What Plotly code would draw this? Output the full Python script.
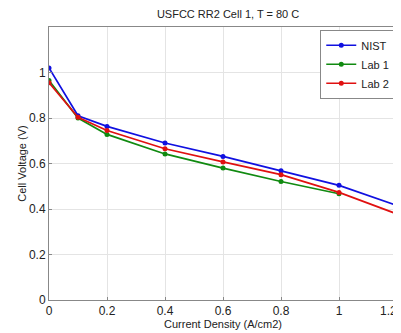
import plotly.graph_objects as go

current_density = [0, 0.1, 0.2, 0.4, 0.6, 0.8, 1.0, 1.2]
nist = [1.02, 0.81, 0.763, 0.69, 0.631, 0.568, 0.504, 0.415]
lab1 = [0.965, 0.80, 0.728, 0.642, 0.58, 0.521, 0.467]
lab2 = [0.955, 0.803, 0.745, 0.665, 0.607, 0.551, 0.473, 0.378]
x_ticks = [0, 0.2, 0.4, 0.6, 0.8, 1, 1.2]
x_tick_labels = ["0", "0.2", "0.4", "0.6", "0.8", "1", "1.2"]

series = [("NIST", nist, "#1010e0"), ("Lab 1", lab1, "#108a10"), ("Lab 2", lab2, "#e01010")]

fig = go.Figure()
for name, vals, col in series:
    fig.add_trace(go.Scatter(
        x=current_density[:len(vals)], y=vals, name=name, mode="lines+markers",
        line=dict(color=col, width=1.7), marker=dict(color=col, size=5),
    ))

# page body adds an 8px margin, so the figure is sized to fit inside 401x333
font = "Liberation Sans, Arial, sans-serif"
fig.update_layout(
    width=393, height=325,
    margin=dict(l=41, r=4, t=19, b=33),
    paper_bgcolor="white", plot_bgcolor="white",
    font=dict(family=font, size=12, color="#222"),
    title=dict(text="USFCC RR2 Cell 1, T = 80 C", x=0.56, xanchor="center", y=0.98, yanchor="middle",
               font=dict(size=11, family=font, color="#222")),
    showlegend=True,
    legend=dict(x=0.995, y=0.99, xanchor="right", yanchor="top", bgcolor="white",
                bordercolor="#888", borderwidth=1, font=dict(size=11), tracegroupgap=0,
                itemwidth=30),
    xaxis=dict(range=[0, 1.2], tickvals=x_ticks[:-1], ticktext=x_tick_labels[:-1],
               showgrid=True, gridcolor="#e4e4e4", zeroline=False, automargin=False,
               showline=True, linecolor="#888", mirror=True, ticks="inside", ticklen=3,
               tickcolor="#888", tickfont=dict(size=12),
               title=dict(text="Current Density (A/cm2)", font=dict(size=11), standoff=0)),
    yaxis=dict(range=[0, 1.2], tickvals=[0, 0.2, 0.4, 0.6, 0.8, 1],
               ticktext=["0", "0.2", "0.4", "0.6", "0.8", "1"],
               showgrid=True, gridcolor="#e4e4e4", zeroline=False, automargin=False,
               showline=True, linecolor="#888", mirror=True, ticks="inside", ticklen=3,
               tickcolor="#888", tickfont=dict(size=12),
               title=dict(text="Cell Voltage (V)", font=dict(size=11), standoff=0)),
)
# last x tick label, kept fully inside the figure at its right edge
fig.add_annotation(x=1.0, y=0, xref="paper", yref="paper", text=x_tick_labels[-1],
                   showarrow=False, xanchor="right", yanchor="top", yshift=-2, xshift=2,
                   font=dict(size=12, family=font, color="#222"))
fig.write_html("out.html")
